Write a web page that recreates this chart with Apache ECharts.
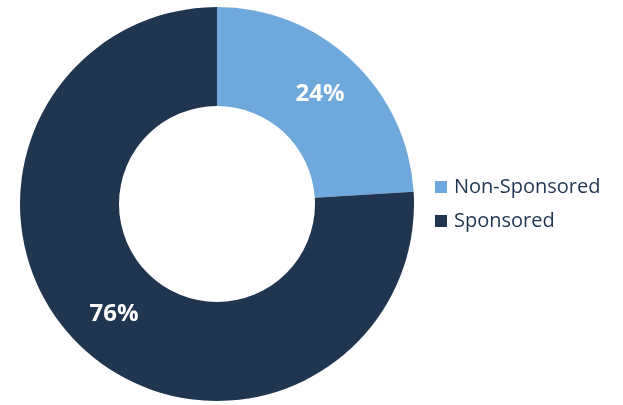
<!DOCTYPE html>
<html><head><meta charset="utf-8">
<script src="https://cdn.jsdelivr.net/npm/echarts@6/dist/echarts.min.js"></script>
<style>html,body{margin:0;padding:0;background:#fff}#c{width:623px;height:405px}</style>
</head><body><div id="c"></div>
<script>
const categories = ["Non-Sponsored", "Sponsored"];
const values = [24, 76];
const colors = ["#6FA8DC", "#1F3550"];

const chart = echarts.init(document.getElementById('c'), null, {renderer: 'canvas'});
chart.setOption({
  animation: false,
  legend: {
    orient: 'vertical',
    left: 430,
    top: 172,
    itemWidth: 12,
    itemHeight: 12,
    itemGap: 14,
    icon: 'rect',
    textStyle: {color: '#1F3550', fontSize: 20, fontFamily: 'Open Sans', padding: [0, 0, 0, 2]},
    data: categories
  },
  series: [{
    type: 'pie',
    center: [217, 204],
    radius: [98, 197],
    startAngle: 90,
    clockwise: true,
    silent: true,
    label: {
      position: 'inside',
      formatter: '{c}%',
      color: '#fff',
      fontSize: 24,
      fontWeight: 'bold',
      fontFamily: 'Open Sans'
    },
    labelLine: {show: false},
    itemStyle: {borderWidth: 0},
    data: categories.map((n, i) => ({name: n, value: values[i], itemStyle: {color: colors[i]}}))
  }]
});
</script></body></html>
